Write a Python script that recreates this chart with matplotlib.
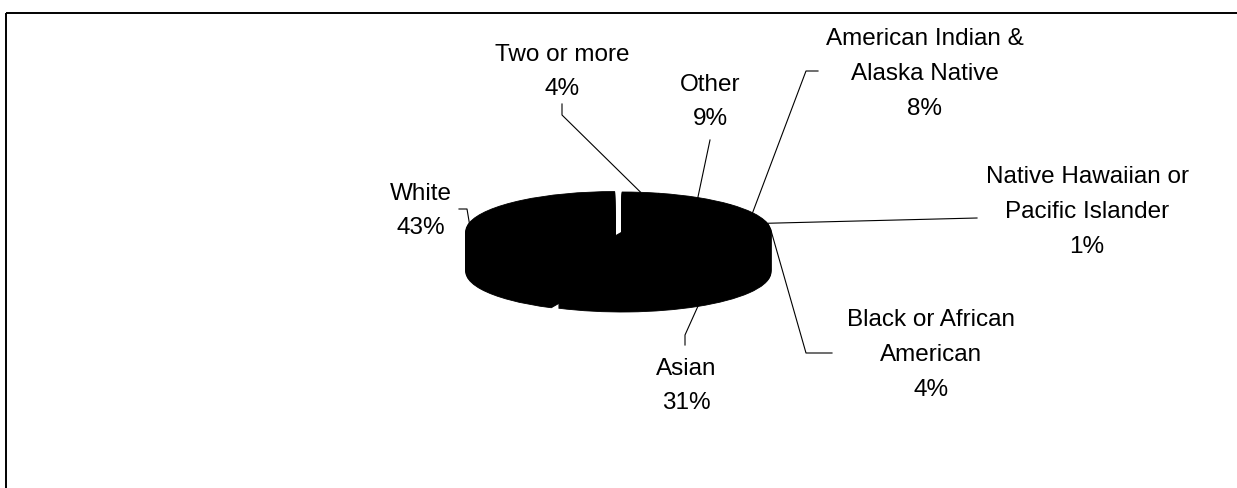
import numpy as np
import matplotlib
matplotlib.use('Agg')
import matplotlib.pyplot as plt

# slices, counter-clockwise from 12 o'clock
labels = ['White', 'Asian', 'Black or African\nAmerican', 'Native Hawaiian or\nPacific Islander',
          'American Indian &\nAlaska Native', 'Other', 'Two or more']
values = [43, 31, 4, 1, 8, 9, 4]
explode = [0.05, 0, 0, 0, 0, 0, 0]

# label centres and leader elbows, in pixels from top-left
label_pos = [(421, 211), (686, 386), (931, 355), (1087, 212), (925, 74), (710, 102), (562, 72)]
elbows = [[(459, 209), (467, 209)], [(685, 345), (685, 335)], [(832, 353), (806, 353)],
          [(977, 218)], [(818, 71), (806, 71)], [(710, 140)], [(562, 104), (562, 115)]]

W, H = 1237, 488
fig = plt.figure(figsize=(W / 100, H / 100), dpi=100)
fig.patch.set_facecolor('white')

bg = fig.add_axes([0, 0, 1, 1])
bg.set_xlim(0, W)
bg.set_ylim(H, 0)
bg.axis('off')

# frame (only top and left edges show)
bg.plot([6, W], [13, 13], color='black', lw=1.4, solid_capstyle='butt')
bg.plot([6, 6], [13, H], color='black', lw=1.4, solid_capstyle='butt')

# pie geometry in pixels
cx, cy, rx, ry, depth = 622, 232, 149, 40, 40
d = depth / ry
pad = 1.3
left = (cx - pad * rx) / W
bottom = 1 - (cy + (pad + d) * ry) / H
ax = fig.add_axes([left, bottom, 2 * pad * rx / W, (2 * pad + d) * ry / H])

# stack copies of the pie to fake the 3D depth
for s in np.linspace(d, 0, 41):
    ax.pie(values, startangle=90, counterclock=True, explode=explode,
           center=(0, -s), colors=['black'] * len(values),
           wedgeprops=dict(linewidth=0.6, edgecolor='black'))
ax.set_aspect('auto')
ax.set_xlim(-pad, pad)
ax.set_ylim(-pad - d, pad)
ax.axis('off')

to_bg = bg.transData.inverted()
cum = 90
for i, v in enumerate(values):
    span = v / 100 * 360
    mid = np.radians(cum + span / 2)
    cum += span
    r = 1 + explode[i]
    px, py = np.cos(mid) * r, np.sin(mid) * r
    if py < 0:
        py -= d
    ax_pt = to_bg.transform(ax.transData.transform((px, py)))
    pts = elbows[i] + [tuple(ax_pt)]
    bg.plot([p[0] for p in pts], [p[1] for p in pts], color='black', lw=0.8)
    tx, ty = label_pos[i]
    bg.text(tx, ty, '%s\n%d%%' % (labels[i], v), ha='center', va='center',
            multialignment='center', fontsize=17.5, family='Liberation Sans',
            linespacing=1.75, color='black')

fig.savefig('out.png', dpi=100, facecolor='white')
